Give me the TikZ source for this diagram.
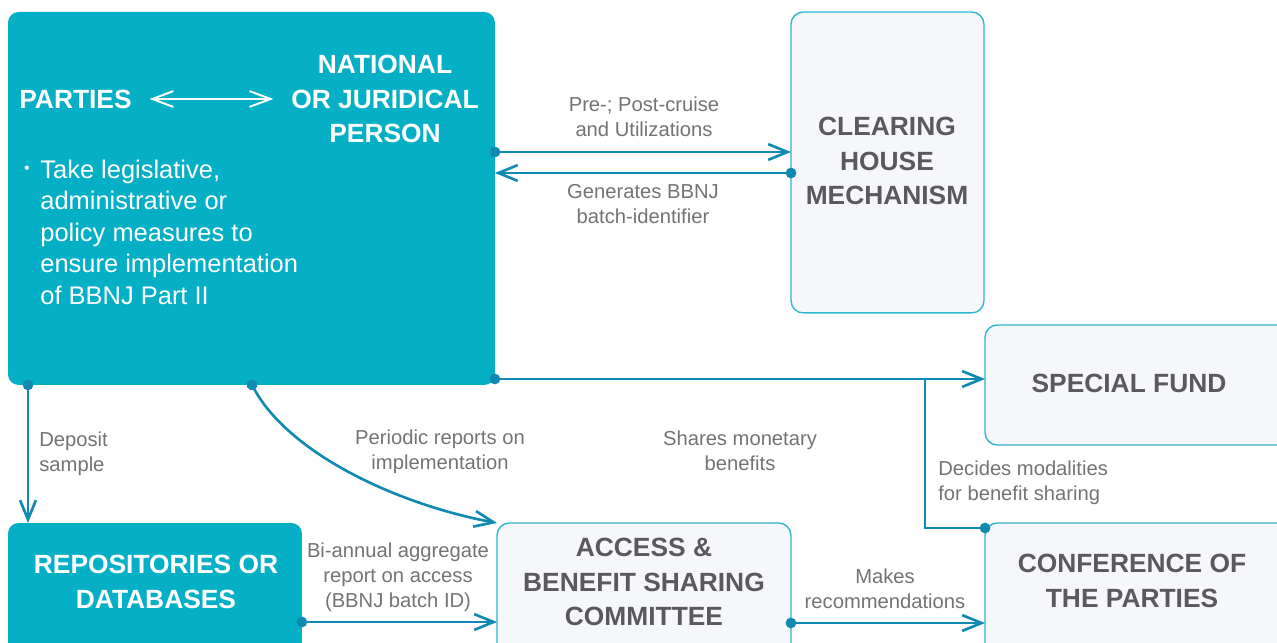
\documentclass[tikz,border=0pt]{standalone}
\usepackage{fontspec}
\setmainfont{Liberation Sans}
\usetikzlibrary{arrows.meta}
\definecolor{bbteal}{RGB}{5,176,199}
\definecolor{bbline}{RGB}{16,138,178}
\definecolor{bbedge}{RGB}{45,182,206}
\definecolor{bbpale}{RGB}{245,247,249}
\definecolor{bbdark}{RGB}{90,90,94}
\definecolor{bbgrey}{RGB}{115,115,115}

\begin{document}
\begin{tikzpicture}[x=0.02cm,y=-0.02cm,
		tealbox/.style={fill=bbteal,rounded corners=6pt,inner sep=0pt,outer sep=0pt,anchor=north west},
		greybox/.style={draw=bbedge,fill=bbpale,line width=0.8pt,rounded corners=7pt,inner sep=0pt,outer sep=0pt,anchor=north west},
		title/.style={text=bbdark,font=\fontsize{15}{19.5}\selectfont\bfseries,align=center,inner sep=0pt},
		wtitle/.style={title,text=white},
		lbl/.style={text=bbgrey,font=\fontsize{11.5}{14.2}\selectfont,align=center,inner sep=0pt},
		link/.style={draw=bbline,line width=1.5pt,{Circle[length=6pt]}-{Straight Barb[length=11pt,width=9pt]},shorten <=-3pt}]
		\useasboundingbox (0,0) rectangle (1277,642);

		\node[tealbox,minimum width=9.74cm,minimum height=7.46cm] (parties) at (8,12) {};
		\node[greybox,minimum width=3.86cm,minimum height=6.02cm] (clearing) at (791,12) {};
		\node[greybox,minimum width=6.2cm,minimum height=2.4cm] (special) at (985,325) {};
		\node[greybox,minimum width=6.2cm,minimum height=2.8cm] (conf) at (985,523) {};
		\node[greybox,minimum width=5.88cm,minimum height=2.8cm] (access) at (497,523) {};
		\node[tealbox,minimum width=5.88cm,minimum height=2.8cm] (repos) at (8,523) {};

		\node[wtitle,anchor=west] (pname) at (19,99) {PARTIES};
		\node[wtitle] (natl) at (385,99) {NATIONAL\\OR JURIDICAL\\PERSON};
		\node[text=white,font=\fontsize{9}{11}\selectfont,inner sep=0pt] (bullet) at (27,170) {\textbullet};
		\node[text=white,font=\fontsize{14.5}{17.9}\selectfont,align=left,inner sep=0pt,anchor=west] (measures) at (40,232)
			{Take legislative,\\administrative or\\policy measures to\\ensure implementation\\of BBNJ Part II};
		\node[title] (chm) at (887,161) {CLEARING\\HOUSE\\MECHANISM};
		\node[title] (fundname) at (1129,383) {SPECIAL FUND};
		\node[title] (copname) at (1132,581) {CONFERENCE OF\\THE PARTIES};
		\node[title] (absname) at (644,582) {ACCESS \&\\BENEFIT SHARING\\COMMITTEE};
		\node[wtitle] (reponame) at (156,582) {REPOSITORIES OR\\DATABASES};

		\node[lbl] (precruise) at (644,117) {Pre-; Post-cruise\\and Utilizations};
		\node[lbl] (batchid) at (643,204) {Generates BBNJ\\batch-identifier};
		\node[lbl,align=left,anchor=west] (deposit) at (39,454) {Deposit\\sample};
		\node[lbl] (periodic) at (440,452) {Periodic reports on\\implementation};
		\node[lbl] (monetary) at (740,451) {Shares monetary\\benefits};
		\node[lbl,align=left,anchor=west] (modal) at (938,483) {Decides modalities\\for benefit sharing};
		\node[lbl] (biannual) at (398,577) {Bi-annual aggregate\\report on access\\(BBNJ batch ID)};
		\node[lbl] (recomm) at (885,589) {Makes\\recommendations};

		\coordinate (split) at (925,379);

		\draw[white,line width=1.1pt,{Straight Barb[length=12pt,width=9pt]}-{Straight Barb[length=12pt,width=9pt]},shorten <=10pt,shorten >=10pt]
			(pname.east) -- (natl.west |- pname.east);
		\draw[link] (parties.east |- 0,152) -- (clearing.west |- 0,152);
		\draw[link] (clearing.west |- 0,173) -- (parties.east |- 0,173);
		\draw[link] (parties.south -| 28,0) -- (repos.north -| 28,0);
		\draw[link] (parties.south -| 252,0) .. controls (290,455) and (400,505) .. (access.north west);
		\draw[link] (parties.east |- split) -- (special.west |- split);
		\draw[draw=bbline,line width=1.5pt,{Circle[length=6pt]}-,shorten <=-3pt] (conf.north west |- 0,528) -| (split);
		\draw[link] (repos.east |- 0,622) -- (access.west |- 0,622);
		\draw[link] (access.east |- 0,623) -- (conf.west |- 0,623);
\end{tikzpicture}
\end{document}
